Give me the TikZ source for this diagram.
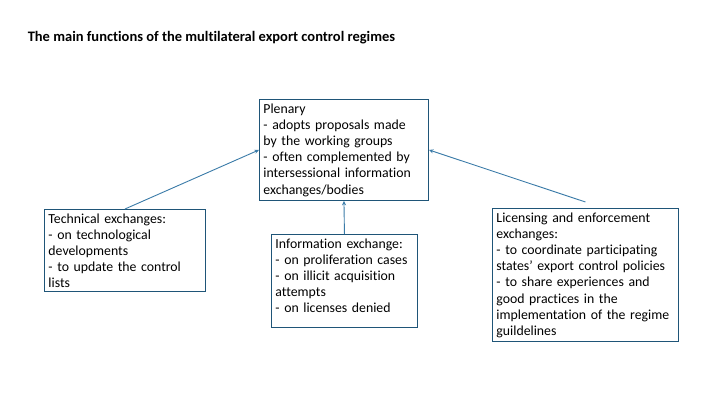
\documentclass[tikz,border=0pt]{standalone}
\usepackage{fontspec}
\setmainfont{Carlito}[Ligatures=NoCommon]
\usetikzlibrary{arrows.meta, positioning}
\definecolor{cframe}{HTML}{1F5578}
\definecolor{carrow}{HTML}{3A7BA8}
\tikzset{
  every picture/.style={line width=0.9bp},
  box/.style={draw=cframe, anchor=north west, align=left, inner xsep=4bp, inner ysep=4bp, font=\fontsize{13.8bp}{16.2bp}\selectfont},
  arrow/.style={-{Stealth[length=4.5bp, width=4bp]}, draw=carrow, line width=0.9bp},
  title/.style={font=\bfseries\fontsize{14.5bp}{17bp}\selectfont, anchor=west},
}
\begin{document}
\begin{tikzpicture}[x=1bp, y=-1bp]
  \useasboundingbox (0,0) rectangle (720,405);
  \node[title] (head) at (24,38) {The main functions of the multilateral export control regimes};
  \node[box, text width=161bp] (plen) at (259,99) {Plenary\\- adopts proposals made\\by the working groups\\- often complemented by\\intersessional information\\exchanges/bodies};
  \node[box, text width=153bp] (tech) at (44,209) {Technical exchanges:\\- on technological\\developments\\- to update the control\\lists};
  \node[box, text width=138bp, text depth=75bp] (info) at (271,234) {Information exchange:\\- on proliferation cases\\- on illicit acquisition\\attempts\\- on licenses denied};
  \node[box, text width=178bp] (lic) at (492,208) {Licensing and enforcement\\exchanges:\\- to coordinate participating\\states’ export control policies\\- to share experiences and\\good practices in the\\implementation of the regime\\guildelines};
  \coordinate (licend) at ([yshift=6bp]lic.north);
  \draw[arrow] (tech.north) -- (plen.west);
  \draw[arrow] (info.north) -- (plen.south);
  \draw[arrow] (licend) -- (plen.east);
\end{tikzpicture}
\end{document}
